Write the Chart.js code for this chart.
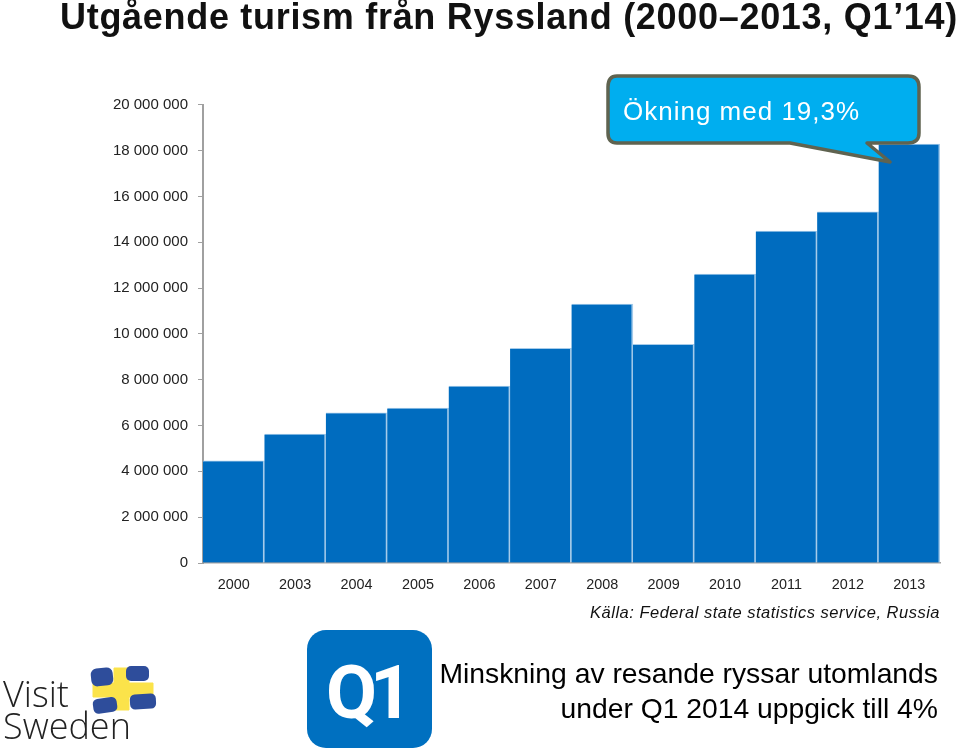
<!DOCTYPE html>
<html lang="sv"><head><meta charset="utf-8">
<script src="https://cdn.jsdelivr.net/npm/chart.js@4"></script>
<style>
html,body{margin:0;padding:0;background:#fff;width:959px;height:754px;overflow:hidden;font-family:"Liberation Sans",Arial,sans-serif}
#wrap{position:relative;width:959px;height:754px}
canvas{position:absolute;left:0;top:0}
.t{position:absolute;white-space:nowrap;color:#000}
#title{left:60px;top:-3px;font-size:36px;font-weight:bold;letter-spacing:.7px;line-height:40px;color:#111}
#src{right:19px;top:603px;font-size:16.5px;font-style:italic;color:#111;letter-spacing:.5px;line-height:18px}
#l1{right:21px;top:657px;font-size:28.3px;line-height:32px}
#l2{right:21px;top:692px;font-size:28.3px;line-height:32px}
#call{left:623px;top:95px;font-size:26px;line-height:32px;color:#fff;letter-spacing:1px;font-family:"Liberation Sans"}
svg{position:absolute;left:0;top:0}
</style></head><body><div id="wrap">
<canvas id="c" width="959" height="754"></canvas>
<div class="t" id="title">Utgående turism från Ryssland (2000–2013, Q1’14)</div>
<div class="t" id="src">Källa: Federal state statistics service, Russia</div>
<svg width="959" height="754" viewBox="0 0 959 754">
  <path d="M617 76H908Q919 76 919 87V133Q919 143 908 143H867L890 162L790 143H617Q608 143 608 133V87Q608 76 617 76Z" fill="#00AEEF" stroke="#5F6350" stroke-width="3.5" stroke-linejoin="round"/>
  <rect x="307" y="630" width="125" height="118" rx="19" fill="#0070C0"/>
  <text x="326" y="718" font-family="Roboto" font-weight="700" font-size="74" letter-spacing="-7" fill="#fff">Q1</text>
  <g font-family="Open Sans" font-weight="300" font-size="36" fill="#222">
    <text x="3" y="707">Visit</text><text x="3" y="739">Sweden</text>
  </g>
  <path d="M114 668H129V683H153V697H129V710H114V697H93V683H114Z" fill="#FBE34A" stroke="#FBE34A" stroke-width="1" stroke-linejoin="round"/>
  <g fill="#2E4D9B">
    <rect x="91" y="668" width="22" height="18" rx="6" transform="rotate(-6 101 677)"/>
    <rect x="126" y="666" width="23" height="15" rx="5"/>
    <rect x="93" y="698" width="24" height="15" rx="5" transform="rotate(-8 104 705)"/>
    <rect x="130" y="694" width="26" height="15" rx="5" transform="rotate(-3 143 702)"/>
  </g>
</svg>
<div class="t" id="call">Ökning med 19,3%</div>
<div class="t" id="l1">Minskning av resande ryssar utomlands</div>
<div class="t" id="l2">under Q1 2014 uppgick till 4%</div>
</div>
<script>
const years = ['2000','2003','2004','2005','2006','2007','2008','2009','2010','2011','2012','2013'];
const travellers = [4460000,5630000,6550000,6760000,7720000,9370000,11300000,9540000,12610000,14490000,15320000,18280000];
const yTicks = [0,2000000,4000000,6000000,8000000,10000000,12000000,14000000,16000000,18000000,20000000];
const fmt = v => String(v).replace(/\B(?=(\d{3})+$)/g,' ');
new Chart(document.getElementById('c'),{
  type:'bar',
  data:{labels:years,datasets:[{data:travellers,backgroundColor:'#006CBF',borderColor:'#A5CBEA',borderWidth:{right:1.8,left:0,top:1,bottom:0},borderSkipped:false,categoryPercentage:1,barPercentage:1}]},
  options:{
    responsive:false,animation:false,
    layout:{padding:{top:104.7,right:19,left:0,bottom:0}},
    plugins:{legend:{display:false},tooltip:{enabled:false},title:{display:false}},
    scales:{
      x:{afterFit(s){s.height=191},border:{color:'#a0a0a0',width:1.5},
         grid:{display:false},
         ticks:{color:'#222',font:{family:'Liberation Sans',size:14.4},padding:5,maxRotation:0,autoSkip:false}},
      y:{min:0,max:20000000,afterFit(s){s.width=203},afterBuildTicks(s){s.ticks=yTicks.map(v=>({value:v}))},
         border:{color:'#a0a0a0',width:2},
         grid:{drawOnChartArea:false,color:'#a0a0a0',tickLength:5,lineWidth:1},
         ticks:{color:'#222',font:{family:'Liberation Sans',size:15},padding:10,callback:fmt}}
    }
  }
});
</script></body></html>
